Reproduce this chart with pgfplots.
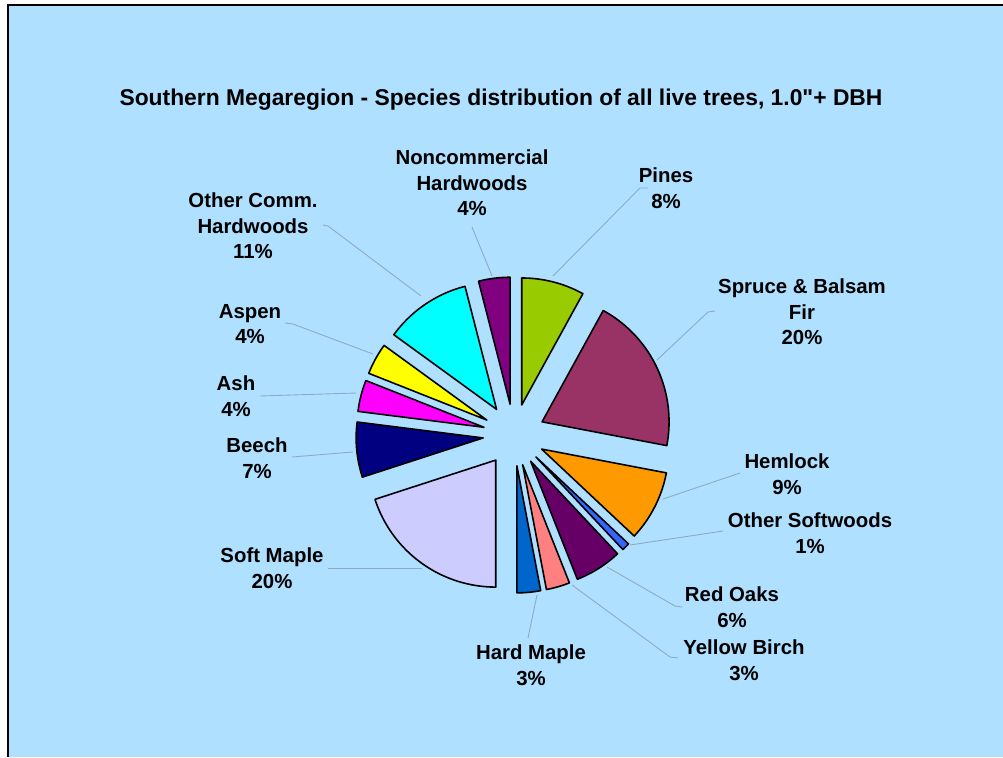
\documentclass[border=0pt]{standalone}
\usepackage{pgfplots}
\usepackage{pgfplotstable}
\usepackage{fontspec}
\setmainfont{Liberation Sans}
\newfontfamily\plainquotes[Ligatures=TeXOff]{Liberation Sans}
\pgfplotsset{compat=1.18}

\definecolor{bgblue}{HTML}{B0E0FF}
\definecolor{leader}{HTML}{8CAAC4}
\definecolor{cPines}{HTML}{99CC00}
\definecolor{cSpruce}{HTML}{993366}
\definecolor{cHemlock}{HTML}{FF9900}
\definecolor{cOtherSoft}{HTML}{3366FF}
\definecolor{cRedOaks}{HTML}{660066}
\definecolor{cYellowBirch}{HTML}{FF8080}
\definecolor{cHardMaple}{HTML}{0066CC}
\definecolor{cSoftMaple}{HTML}{CCCCFF}
\definecolor{cBeech}{HTML}{000080}
\definecolor{cAsh}{HTML}{FF00FF}
\definecolor{cAspen}{HTML}{FFFF00}
\definecolor{cOtherComm}{HTML}{00FFFF}
\definecolor{cNonComm}{HTML}{800080}

% species shares in percent, clockwise from 12 o'clock
\pgfplotstableread[col sep=comma]{
name,value,color
Pines,8,cPines
Spruce,20,cSpruce
Hemlock,9,cHemlock
OtherSoft,1,cOtherSoft
RedOaks,6,cRedOaks
YellowBirch,3,cYellowBirch
HardMaple,3,cHardMaple
SoftMaple,20,cSoftMaple
Beech,7,cBeech
Ash,4,cAsh
Aspen,4,cAspen
OtherComm,11,cOtherComm
NonComm,4,cNonComm
}\piedata

\begin{document}
\begin{tikzpicture}[
    lbl/.style={font=\fontsize{11.6}{14.6}\selectfont\bfseries, align=center, text=black},
    ldr/.style={leader, line width=0.5pt},
]
\begin{axis}[
    width=20.06cm, height=15.14cm,
    scale only axis,
    xmin=0, xmax=1003, ymin=0, ymax=757,
    y dir=reverse,
    hide axis,
]
% page background and frame
\fill[white] (axis cs:0,0) rectangle (axis cs:1003,757);
\fill[bgblue] (axis cs:8,5) rectangle (axis cs:1003,757);
\draw[black, line width=1.2pt] (axis cs:8,757) -- (axis cs:8,5) -- (axis cs:1003,5);

% exploded pie
\def\cx{514}\def\cy{435}\def\rad{127}\def\expl{31}
\pgfplotstablegetrowsof{\piedata}
\pgfmathtruncatemacro{\nrows}{\pgfplotsretval-1}
\def\cum{0}
\pgfplotsforeachungrouped \i in {0,...,\nrows}{
  \pgfplotstablegetelem{\i}{value}\of\piedata \let\val\pgfplotsretval
  \pgfplotstablegetelem{\i}{color}\of\piedata \let\slicecol\pgfplotsretval
  \pgfmathsetmacro{\angA}{90-3.6*\cum}
  \pgfmathsetmacro{\angB}{90-3.6*(\cum+\val)}
  \pgfmathsetmacro{\angM}{(\angA+\angB)/2}
  \pgfmathsetmacro{\px}{\cx+\expl*cos(\angM)}
  \pgfmathsetmacro{\py}{\cy-\expl*sin(\angM)}
  \edef\doslice{\noexpand\addplot[fill=\slicecol, draw=black, line width=0.9pt,
      line join=round, domain=\angB:\angA, samples=60, variable=\noexpand\t]
      ({\px+\rad*cos(\noexpand\t)},{\py-\rad*sin(\noexpand\t)})
      -- (axis cs:\px,\py) -- cycle;}
  \doslice
  \pgfmathsetmacro{\cum}{\cum+\val}
}

% leader lines
\draw[ldr] (axis cs:472,227) -- (axis cs:492,276);
\draw[ldr] (axis cs:648,188) -- (axis cs:640,188) -- (axis cs:553,276);
\draw[ldr] (axis cs:323,225) -- (axis cs:328,226) -- (axis cs:421,296);
\draw[ldr] (axis cs:285,323) -- (axis cs:293,324) -- (axis cs:373,354);
\draw[ldr] (axis cs:260,396) -- (axis cs:356,393);
\draw[ldr] (axis cs:292,457) -- (axis cs:353,452);
\draw[ldr] (axis cs:715,311) -- (axis cs:708,312) -- (axis cs:657,360);
\draw[ldr] (axis cs:740,473) -- (axis cs:663,499);
\draw[ldr] (axis cs:723,531) -- (axis cs:630,545);
\draw[ldr] (axis cs:328,568) -- (axis cs:422,568);
\draw[ldr] (axis cs:682,607) -- (axis cs:675,606) -- (axis cs:607,567);
\draw[ldr] (axis cs:678,658) -- (axis cs:670,657) -- (axis cs:572,585);
\draw[ldr] (axis cs:528,638) -- (axis cs:537,595);

% title and labels
\node[font=\fontsize{13}{16}\selectfont\bfseries] at (axis cs:501,100)
  {Southern Megaregion - Species distribution of all live trees, 1.0{\plainquotes\bfseries "}+ DBH};
\node[lbl] at (axis cs:472,183) {Noncommercial\\Hardwoods\\4\%};
\node[lbl] at (axis cs:666,188) {Pines\\8\%};
\node[lbl] at (axis cs:802,312) {Spruce \& Balsam\\Fir\\20\%};
\node[lbl] at (axis cs:787,474) {Hemlock\\9\%};
\node[lbl] at (axis cs:810,533) {Other Softwoods\\1\%};
\node[lbl] at (axis cs:732,607) {Red Oaks\\6\%};
\node[lbl] at (axis cs:744,660) {Yellow Birch\\3\%};
\node[lbl] at (axis cs:531,665) {Hard Maple\\3\%};
\node[lbl] at (axis cs:272,568) {Soft Maple\\20\%};
\node[lbl] at (axis cs:257,458) {Beech\\7\%};
\node[lbl] at (axis cs:236,396) {Ash\\4\%};
\node[lbl] at (axis cs:250,324) {Aspen\\4\%};
\node[lbl] at (axis cs:253,226) {Other Comm.\\Hardwoods\\11\%};
\end{axis}
\end{tikzpicture}
\end{document}
